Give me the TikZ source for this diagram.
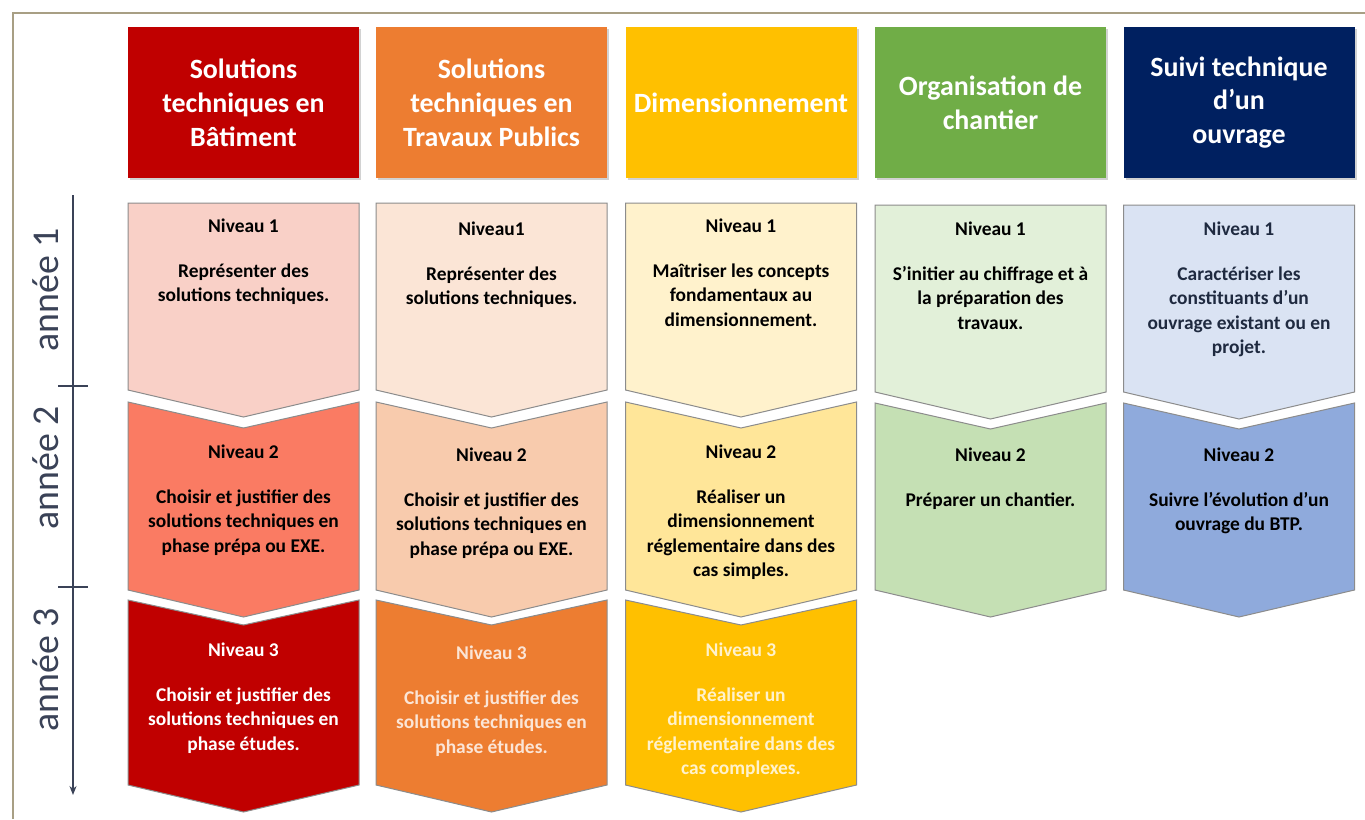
\documentclass[tikz,border=0pt]{standalone}
\usepackage{fontspec}
\setmainfont{Carlito}
\usetikzlibrary{arrows.meta,shadows}

\definecolor{framecol}{HTML}{A89F84}
\definecolor{axiscol}{HTML}{3A4257}
\definecolor{chevline}{HTML}{8C8C8C}
\definecolor{bathead}{HTML}{C00000}
\definecolor{batone}{HTML}{F9D0C7}
\definecolor{battwo}{HTML}{FA7B63}
\definecolor{tphead}{HTML}{ED7D31}
\definecolor{tpone}{HTML}{FBE5D6}
\definecolor{tptwo}{HTML}{F8CBAD}
\definecolor{dimhead}{HTML}{FFC000}
\definecolor{dimone}{HTML}{FFF2CC}
\definecolor{dimtwo}{HTML}{FFE699}
\definecolor{orghead}{HTML}{70AD47}
\definecolor{orgone}{HTML}{E2F0D9}
\definecolor{orgtwo}{HTML}{C5E0B4}
\definecolor{suihead}{HTML}{002060}
\definecolor{suione}{HTML}{DAE3F3}
\definecolor{suitwo}{HTML}{8FAADC}
\definecolor{suitext}{HTML}{1F2A40}

% chevron: left x, top y, bottom y, notch depth, fill
\newcommand{\chevbox}[5]{%
  \filldraw[fill=#5, draw=chevline, line width=1bp, line join=miter]
    (#1,#2) -- (#1+115.5,#2+#4) -- (#1+231,#2) -- (#1+231,#3)
    -- (#1+115.5,#3+27) -- (#1,#3) -- cycle;}

\tikzset{
  head/.style={minimum width=231bp, minimum height=151bp, inner sep=0pt,
    text=white, align=center, font=\bfseries\fontsize{28}{34}\selectfont,
    drop shadow={shadow xshift=2pt, shadow yshift=-2pt, opacity=0.35}},
  lvl/.style={anchor=north, inner sep=0pt, align=center,
    font=\bfseries\fontsize{19.5}{24.5}\selectfont},
  yearlbl/.style={rotate=90, text=axiscol, font=\fontsize{38}{40}\selectfont},
  axis/.style={draw=axiscol, line width=1.3bp}
}

\begin{document}
\begin{tikzpicture}[x=1bp, y=-1bp]
    \useasboundingbox[fill=white] (0,0) rectangle (1365,819);
    \draw[framecol, line width=2bp] (13,819) -- (13,13) -- (1365,13);

    \node[head, fill=bathead] (bat) at (243.5,102.5) {Solutions\\techniques en\\Bâtiment};
    \node[head, fill=tphead]  (tp)  at (491.5,102.5) {Solutions\\techniques en\\Travaux Publics};
    \node[head, fill=dimhead] (dim) at (741,102.5)   {Dimensionnement};
    \node[head, fill=orghead] (org) at (990.5,102.5) {Organisation de\\chantier};
    \node[head, fill=suihead] (sui) at (1239,102.5)  {Suivi technique\\d’un\\ouvrage};

    \chevbox{128}{203}{390}{0}{batone}
    \chevbox{128}{402}{590}{26}{battwo}
    \chevbox{128}{600}{785}{25}{bathead}
    \chevbox{376}{203}{390}{0}{tpone}
    \chevbox{376}{402}{590}{26}{tptwo}
    \chevbox{376}{600}{785}{25}{tphead}
    \chevbox{625.5}{203}{390}{0}{dimone}
    \chevbox{625.5}{402}{590}{26}{dimtwo}
    \chevbox{625.5}{600}{785}{25}{dimhead}
    \chevbox{875}{205}{392}{0}{orgone}
    \chevbox{875}{403}{590}{26}{orgtwo}
    \chevbox{1123.5}{205}{392}{0}{suione}
    \chevbox{1123.5}{403}{590}{26}{suitwo}

    \node[lvl] (bat1) at (243.5,219) {Niveau 1\\[20bp]Représenter des\\solutions techniques.};
    \node[lvl] (bat2) at (243.5,445) {Niveau 2\\[20bp]Choisir et justifier des\\solutions techniques en\\phase prépa ou EXE.};
    \node[lvl, text=white] (bat3) at (243.5,643) {Niveau 3\\[20bp]Choisir et justifier des\\solutions techniques en\\phase études.};
    \node[lvl] (tp1) at (491.5,222) {Niveau1\\[20bp]Représenter des\\solutions techniques.};
    \node[lvl] (tp2) at (491.5,448) {Niveau 2\\[20bp]Choisir et justifier des\\solutions techniques en\\phase prépa ou EXE.};
    \node[lvl, text=tpone] (tp3) at (491.5,646) {Niveau 3\\[20bp]Choisir et justifier des\\solutions techniques en\\phase études.};
    \node[lvl] (dim1) at (741,219) {Niveau 1\\[20bp]Maîtriser les concepts\\fondamentaux au\\dimensionnement.};
    \node[lvl] (dim2) at (741,445) {Niveau 2\\[20bp]Réaliser un\\dimensionnement\\réglementaire dans des\\cas simples.};
    \node[lvl, text=dimone] (dim3) at (741,643) {Niveau 3\\[20bp]Réaliser un\\dimensionnement\\réglementaire dans des\\cas complexes.};
    \node[lvl] (org1) at (990.5,222) {Niveau 1\\[20bp]S’initier au chiffrage et à\\la préparation des\\travaux.};
    \node[lvl] (org2) at (990.5,448) {Niveau 2\\[20bp]Préparer un chantier.};
    \node[lvl, text=suitext] (sui1) at (1239,222) {Niveau 1\\[20bp]Caractériser les\\constituants d’un\\ouvrage existant ou en\\projet.};
    \node[lvl] (sui2) at (1239,448) {Niveau 2\\[20bp]Suivre l’évolution d’un\\ouvrage du BTP.};

    \coordinate (axtop) at (73,195);
    \coordinate (axbot) at (73,795);
    \coordinate (tickal) at (58,386);
    \coordinate (tickar) at (88,386);
    \coordinate (tickbl) at (58,587);
    \coordinate (tickbr) at (88,587);
    \draw[axis, -{Stealth[length=9bp, width=7bp]}] (axtop) -- (axbot);
    \draw[axis] (tickal) -- (tickar);
    \draw[axis] (tickbl) -- (tickbr);

    \node[yearlbl] (an1) at (46,290) {année 1};
    \node[yearlbl] (an2) at (46,468) {année 2};
    \node[yearlbl] (an3) at (46,670) {année 3};

  \end{tikzpicture}
\end{document}
